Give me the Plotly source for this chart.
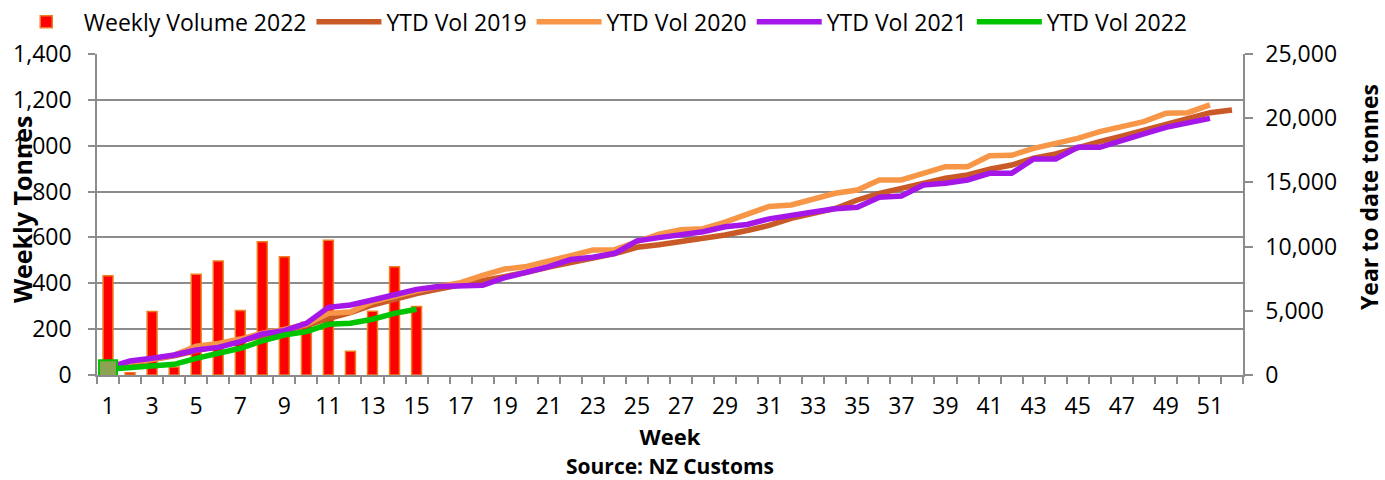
import plotly.graph_objects as go

weeks = list(range(1, 53))
week_ticks = list(range(1, 53, 2))

weekly_2022 = [433, 10, 277, 35, 439, 497, 281, 581, 516, 230, 588, 104, 278, 472, 299]

ytd_2019 = [500, 900, 1200, 1500, 1900, 2250, 2650, 3050, 3450, 3850,
            4400, 4850, 5450, 5950, 6350, 6700, 7000, 7350, 7650, 8000,
            8400, 8800, 9100, 9450, 9950, 10150, 10400, 10600, 10900, 11250,
            11650, 12200, 12600, 12970, 13630, 14150, 14540, 14980, 15320, 15580,
            16020, 16350, 16880, 17210, 17730, 18170, 18610, 19080, 19600, 19990,
            20430, 20640]

ytd_2020 = [450, 1000, 1200, 1550, 2250, 2450, 2800, 3250, 3550, 3950,
            4800, 4900, 5700, 6150, 6550, 6900, 7190, 7750, 8250, 8450,
            8930, 9300, 9730, 9760, 10380, 10970, 11320, 11390, 11900, 12460,
            13130, 13240, 13700, 14150, 14410, 15190, 15190, 15760, 16220, 16220,
            17070, 17110, 17650, 18040, 18430, 18950, 19390, 19730, 20380, 20430,
            21030]

ytd_2021 = [570, 1090, 1300, 1560, 1950, 2150, 2600, 3190, 3450, 4020,
            5270, 5450, 5840, 6230, 6670, 6900, 6990, 6990, 7580, 8010,
            8440, 8990, 9170, 9480, 10450, 10700, 10970, 11160, 11550, 11720,
            12160, 12380, 12700, 12950, 13060, 13840, 13940, 14800, 14930, 15190,
            15710, 15710, 16820, 16820, 17730, 17730, 18300, 18770, 19290, 19600,
            19990]

ytd_2022 = [440, 570, 780, 830, 1300, 1740, 2080, 2650, 3115, 3375,
            3945, 4025, 4340, 4800, 5115]

FONT = "Open Sans, DejaVu Sans, Arial, sans-serif"
GRID = "#8C8C8C"
TICK_SIZE = 23

fig = go.Figure()

fig.add_trace(go.Bar(
    x=weeks[:len(weekly_2022)], y=weekly_2022, name="Weekly Volume 2022",
    marker=dict(color="#FF0000", line=dict(color="#EE7D22", width=1.5)),
    width=0.45, yaxis="y",
))

line_specs = [
    ("YTD Vol 2019", ytd_2019, "#C95A28"),
    ("YTD Vol 2020", ytd_2020, "#F79646"),
    ("YTD Vol 2021", ytd_2021, "#A517E8"),
    ("YTD Vol 2022", ytd_2022, "#00C400"),
]
for name, vals, col in line_specs:
    fig.add_trace(go.Scatter(
        x=weeks[:len(vals)], y=vals, name=name, mode="lines",
        line=dict(color=col, width=5.5), yaxis="y2",
    ))

fig.add_trace(go.Scatter(
    x=weeks[:1], y=ytd_2022[:1], mode="markers", showlegend=False,
    marker=dict(symbol="square", size=18, color="#8CA352",
                line=dict(color="#00C400", width=2)),
    yaxis="y2",
))

fig.update_layout(
    width=1385, height=480,
    margin=dict(l=97, r=142, t=54, b=105, autoexpand=False),
    plot_bgcolor="white", paper_bgcolor="white",
    font=dict(family=FONT, size=TICK_SIZE, color="black"),
    showlegend=True,
    legend=dict(orientation="h", x=-0.077, xanchor="left", y=1.10, yanchor="middle",
                font=dict(size=TICK_SIZE), itemwidth=65, tracegroupgap=0,
                bgcolor="rgba(0,0,0,0)"),
    xaxis=dict(
        range=[0.5, 52.5], tickmode="array", tickvals=week_ticks,
        ticks="outside", ticklen=10, tickcolor="rgba(0,0,0,0)",
        showline=True, linecolor=GRID, linewidth=1.5,
        showgrid=False, zeroline=False,
        minor=dict(ticks="outside", tick0=0.5, dtick=1, ticklen=7,
                   tickcolor=GRID, tickwidth=1.5),
        tickfont=dict(size=TICK_SIZE),
        title=dict(text="<b>Week</b>", font=dict(size=22), standoff=0),
    ),
    yaxis=dict(
        range=[0, 1400], dtick=200, tickformat=",",
        showgrid=True, gridcolor=GRID, gridwidth=1.5,
        showline=True, linecolor=GRID, linewidth=1.5,
        ticks="outside", ticklen=7, tickcolor=GRID, tickwidth=1.5,
        ticklabelstandoff=12,
        zeroline=False, tickfont=dict(size=TICK_SIZE),
    ),
    yaxis2=dict(
        range=[0, 25000], dtick=5000, tickformat=",",
        overlaying="y", side="right", showgrid=False,
        showline=True, linecolor=GRID, linewidth=1.5,
        ticks="outside", ticklen=8, tickcolor=GRID, tickwidth=1.5,
        ticklabelstandoff=8,
        zeroline=False, tickfont=dict(size=TICK_SIZE),
    ),
    annotations=[
        dict(text="<b>Weekly Tonnes</b>", xref="paper", yref="paper",
             x=-0.0654, y=0.517, textangle=-90, showarrow=False,
             font=dict(size=25), xanchor="center", yanchor="middle"),
        dict(text="<b>Year to date tonnes</b>", xref="paper", yref="paper",
             x=1.1095, y=0.556, textangle=-90, showarrow=False,
             font=dict(size=23), xanchor="center", yanchor="middle",
             borderpad=0),
        dict(text="<b>Source: NZ Customs</b>", xref="paper", yref="paper",
             x=0.5, y=-0.2835, showarrow=False, font=dict(size=21),
             xanchor="center", yanchor="middle"),
    ],
)

fig.write_html("out.html", config={"displayModeBar": False},
               post_script="document.body.style.margin='0px';")
